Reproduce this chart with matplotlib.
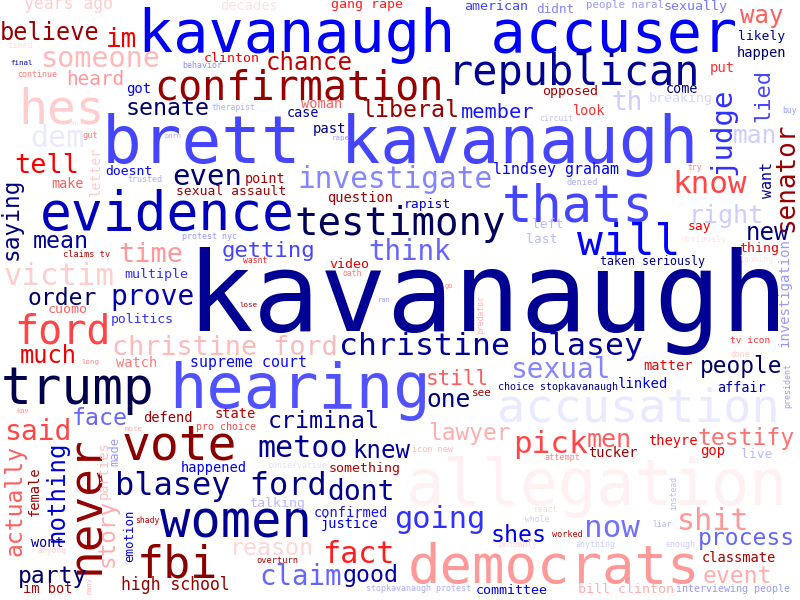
import matplotlib
matplotlib.use("Agg")
import matplotlib.pyplot as plt

# word frequencies (largest word = 111)
words = [
    "kavanaugh", "brett kavanaugh", "kavanaugh accuser", "allegation", "hearing",
    "democrats", "evidence", "trump", "thats", "women", "never", "vote",
    "accusation", "hes", "fbi", "will", "republican", "confirmation", "ford",
    "testimony", "blasey ford", "christine blasey", "know", "pick", "now",
    "metoo", "dem", "going", "victim", "fact", "think", "shit", "investigate",
    "judge", "tell", "prove", "someone", "christine ford", "time", "claim",
    "said", "sexual", "dont", "senator", "right", "men", "man", "th", "one",
    "way", "even", "much", "getting", "mean", "order", "senate",
    "liberal", "believe", "reason", "shes", "good", "face", "lied", "saying",
    "nothing", "actually", "criminal", "knew", "lawyer", "testify", "process",
    "event", "people", "party", "new", "story", "still", "chance", "member",
    "heard", "im", "high school", "lindsey graham", "supreme court",
    "investigation", "want", "linked", "got", "look", "put", "gop", "case",
    "past", "woman", "clinton", "years ago", "decades", "gang rape", "american",
    "sexually", "didnt", "likely", "happen", "come", "opposed", "breaking",
    "doesnt", "make", "point", "sexual assault", "question", "rapist", "video",
    "multiple", "politics", "cuomo", "watch", "matter", "thing", "say", "left",
    "last", "affair", "defend", "state", "happened", "something", "confirmed",
    "justice", "talking", "wont", "im bot", "committee", "classmate",
    "bill clinton", "theyre", "tucker", "live", "letter", "parties", "female",
    "emotion", "made", "taken seriously", "people naral", "pro choice",
    "choice stopkavanaugh", "see", "tv icon", "interviewing people",
    "therapist", "behavior", "continue", "timed", "final", "trusted", "gut",
    "back", "porn", "rape", "circuit", "buy", "try", "denied", "protest nyc",
    "claims tv", "wasnt", "oath", "go", "ran", "lose", "predator", "long",
    "kav", "mote", "anyone", "shady", "many", "overturn", "conservative",
    "icon new", "attempt", "instead", "react", "whole", "probably", "worked",
    "liar", "anything", "enough", "obviously", "looking", "done", "president",
    "stopkavanaugh protest",
]
weights = [
    111, 66, 58.5, 63.5, 62,
    54, 53, 51, 50.5, 50.5, 46, 48,
    47, 48, 45, 43, 42, 40, 40,
    39, 32, 31.5, 31, 31, 31,
    30, 30, 30.4, 30.6, 30, 27.5, 30, 29.5,
    29, 27, 28, 28.5, 26.7, 27, 27.5,
    28, 27.7, 28, 26, 25, 25, 24.5, 26, 24.5,
    24, 29, 23.8, 22.3, 23.3, 23, 23.3,
    23.3, 23.6, 23.3, 23.3, 23.3, 23.3, 22, 22.7,
    24, 23, 23.3, 24, 22.7, 23, 23,
    23, 22.7, 23, 24, 22.6, 21, 24, 20.4,
    19.4, 26, 16.5, 14.9, 14.9,
    14, 15, 14, 14, 13.5, 14, 14, 13.5,
    13.9, 13.8, 13.4, 16.5, 13.6, 13.4, 13.4,
    13.4, 12.7, 13, 13.7, 13.5, 13.4, 13.4,
    13.1, 13.5, 13.5, 13, 13.8, 13, 13.4,
    13.4, 13.1, 13.4, 13.8, 13.7, 13.4, 13, 13,
    13, 13.5, 13.7, 13.8, 13.6, 13.4, 13.7,
    13.6, 13.4, 13.5, 13.7, 13.4, 13.7,
    13.2, 13.7, 13.7, 13, 13.7, 13.6, 13.7,
    12.4, 12, 11.6, 10.7, 10,
    10, 11, 9.5, 10,
    8.2, 8.4, 8.4, 8.5, 7.5, 8.4, 8.6,
    7, 7, 7.5, 8, 8, 8, 8.7, 8.4,
    8.6, 8, 8, 7, 7, 7.5, 8.2, 7.5,
    7, 7.5, 8, 8, 7, 8.6, 8.4,
    8.5, 8.5, 8.2, 8, 8, 8, 8.5,
    8, 8.3, 8.3, 8.5, 8, 8, 8.4,
    8.4,
]

# placement: x centre, baseline y (horizontal) or baseline x, centre y (vertical),
# rotation, colour position on the seismic map
layout = {
    "kavanaugh": (487, 331, 0, 0.10),
    "brett kavanaugh": (400, 163, 0, 0.32),
    "kavanaugh accuser": (438, 52, 0, 0.245),
    "allegation": (597, 505, 0, 0.515),
    "hearing": (300, 408, 0, 0.33),
    "democrats": (554, 583, 0, 0.60),
    "evidence": (167, 230, 0, 0.16),
    "trump": (78, 404, 0, 0.0),
    "thats": (578, 222, 0, 0.32),
    "women": (236, 538, 0, 0.10),
    "never": (99, 505, 90, 0.96),
    "vote": (179, 460, 0, 0.98),
    "accusation": (638, 422, 0, 0.48),
    "hes": (62, 123, 0, 0.55),
    "fbi": (177, 577, 0, 0.98),
    "will": (629, 255, 0, 0.25),
    "republican": (574, 85, 0, 0.10),
    "confirmation": (299, 99, 0, 0.95),
    "ford": (63, 343, 0, 0.68),
    "testimony": (400, 235, 0, 0.02),
    "blasey ford": (221, 495, 0, 0.08),
    "christine blasey": (491, 355, 0, 0.11),
    "know": (710, 193, 0, 0.68),
    "pick": (550, 453, 0, 0.68),
    "now": (612, 537, 0, 0.36),
    "metoo": (303, 457, 0, 0.10),
    "dem": (57, 147, 0, 0.48),
    "going": (440, 528, 0, 0.30),
    "victim": (59, 285, 0, 0.55),
    "fact": (358, 563, 0, 0.72),
    "think": (409, 260, 0, 0.35),
    "shit": (713, 530, 0, 0.60),
    "investigate": (395, 188, 0, 0.38),
    "judge": (730, 131, 90, 0.30),
    "tell": (47, 173, 0, 0.76),
    "prove": (153, 305, 0, 0.14),
    "someone": (100, 67, 0, 0.57),
    "christine ford": (225, 355, 0, 0.57),
    "time": (151, 262, 0, 0.60),
    "claim": (301, 585, 0, 0.35),
    "said": (38, 440, 0, 0.68),
    "sexual": (560, 378, 0, 0.38),
    "dont": (361, 500, 0, 0.10),
    "senator": (793, 177, 90, 0.95),
    "right": (726, 223, 0, 0.45),
    "men": (609, 447, 0, 0.66),
    "man": (755, 143, 0, 0.45),
    "th": (627, 110, 0, 0.45),
    "one": (448, 407, 0, 0.08),
    "way": (762, 23, 0, 0.66),
    "even": (207, 185, 0, 0.05),
    "much": (48, 363, 0, 0.77),
    "getting": (268, 257, 0, 0.32),
    "mean": (61, 248, 0, 0.12),
    "order": (62, 305, 0, 0.04),
    "senate": (168, 115, 0, 0.05),
    "liberal": (410, 117, 0, 0.95),
    "believe": (50, 40, 0, 0.95),
    "reason": (272, 555, 0, 0.54),
    "shes": (519, 542, 0, 0.23),
    "good": (371, 582, 0, 0.14),
    "face": (100, 425, 0, 0.35),
    "lied": (769, 95, 90, 0.32),
    "saying": (18, 219, 90, 0.08),
    "nothing": (64, 491, 90, 0.20),
    "actually": (22, 500, 90, 0.66),
    "criminal": (324, 428, 0, 0.11),
    "knew": (381, 458, 0, 0.11),
    "lawyer": (469, 440, 0, 0.58),
    "testify": (746, 445, 0, 0.64),
    "process": (746, 545, 0, 0.35),
    "event": (737, 583, 0, 0.58),
    "people": (741, 373, 0, 0.04),
    "party": (53, 583, 0, 0.05),
    "new": (767, 240, 0, 0.07),
    "story": (114, 533, 90, 0.58),
    "still": (457, 385, 0, 0.66),
    "chance": (309, 70, 0, 0.87),
    "member": (498, 118, 0, 0.27),
    "heard": (95, 85, 0, 0.60),
    "im": (121, 47, 0, 0.78),
    "high school": (175, 590, 0, 0.95),
    "lindsey graham": (556, 174, 0, 0.24),
    "supreme court": (249, 367, 0, 0.26),
    "investigation": (789, 293, 90, 0.40),
    "want": (772, 180, 90, 0.10),
    "linked": (643, 388, 0, 0.22),
    "got": (139, 93, 0, 0.25),
    "look": (589, 115, 0, 0.70),
    "put": (722, 72, 0, 0.70),
    "gop": (713, 455, 0, 0.78),
    "case": (303, 117, 0, 0.12),
    "past": (329, 133, 0, 0.08),
    "woman": (322, 108, 0, 0.66),
    "clinton": (232, 62, 0, 0.76),
    "years ago": (68, 9, 0, 0.55),
    "decades": (249, 10, 0, 0.53),
    "gang rape": (367, 8, 0, 0.72),
    "american": (496, 10, 0, 0.32),
    "sexually": (696, 10, 0, 0.37),
    "didnt": (555, 13, 0, 0.38),
    "likely": (762, 40, 0, 0.10),
    "happen": (761, 57, 0, 0.05),
    "come": (682, 93, 0, 0.07),
    "opposed": (570, 95, 0, 0.92),
    "breaking": (681, 102, 0, 0.46),
    "doesnt": (129, 175, 0, 0.25),
    "make": (68, 188, 0, 0.66),
    "point": (265, 183, 0, 0.90),
    "sexual assault": (231, 195, 0, 0.93),
    "question": (360, 202, 0, 0.93),
    "rapist": (427, 208, 0, 0.17),
    "video": (349, 268, 0, 0.80),
    "multiple": (156, 278, 0, 0.30),
    "politics": (142, 323, 0, 0.30),
    "cuomo": (68, 313, 0, 0.65),
    "watch": (137, 367, 0, 0.63),
    "matter": (668, 370, 0, 0.77),
    "thing": (759, 252, 0, 0.76),
    "say": (699, 230, 0, 0.76),
    "left": (548, 228, 0, 0.43),
    "last": (542, 243, 0, 0.43),
    "affair": (742, 392, 0, 0.15),
    "defend": (168, 422, 0, 0.95),
    "state": (235, 418, 0, 0.88),
    "happened": (214, 472, 0, 0.24),
    "something": (365, 472, 0, 0.90),
    "confirmed": (351, 517, 0, 0.27),
    "justice": (350, 528, 0, 0.22),
    "talking": (277, 507, 0, 0.43),
    "wont": (47, 547, 0, 0.10),
    "im bot": (48, 593, 0, 0.90),
    "committee": (512, 594, 0, 0.24),
    "classmate": (739, 562, 0, 0.92),
    "bill clinton": (626, 593, 0, 0.58),
    "theyre": (673, 445, 0, 0.78),
    "tucker": (613, 457, 0, 0.95),
    "live": (757, 458, 0, 0.43),
    "letter": (100, 171, 90, 0.55),
    "parties": (108, 470, 90, 0.56),
    "female": (39, 491, 90, 0.93),
    "emotion": (133, 536, 90, 0.20),
    "made": (118, 452, 90, 0.40),
    "taken seriously": (653, 265, 0, 0.10),
    "people naral": (625, 8, 0, 0.40),
    "pro choice": (226, 430, 0, 0.68),
    "choice stopkavanaugh": (558, 390, 0, 0.10),
    "see": (482, 396, 0, 0.95),
    "tv icon": (750, 343, 0, 0.70),
    "interviewing people": (733, 592, 0, 0.40),
    "therapist": (233, 110, 0, 0.42),
    "behavior": (202, 68, 0, 0.39),
    "continue": (37, 77, 0, 0.63),
    "timed": (20, 48, 0, 0.53),
    "final": (22, 65, 0, 0.18),
    "trusted": (145, 182, 0, 0.42),
    "gut": (90, 138, 0, 0.63),
    "back": (77, 125, 0, 0.53),
    "porn": (173, 138, 0, 0.42),
    "rape": (341, 140, 0, 0.40),
    "circuit": (556, 121, 0, 0.44),
    "buy": (790, 113, 0, 0.40),
    "try": (695, 170, 0, 0.62),
    "denied": (582, 185, 0, 0.42),
    "protest nyc": (210, 239, 0, 0.40),
    "claims tv": (87, 257, 0, 0.88),
    "wasnt": (255, 263, 0, 0.72),
    "oath": (352, 276, 0, 0.63),
    "go": (449, 288, 0, 0.62),
    "ran": (384, 302, 0, 0.40),
    "lose": (248, 307, 0, 0.90),
    "predator": (483, 314, 90, 0.58),
    "long": (90, 364, 0, 0.62),
    "kav": (23, 413, 0, 0.60),
    "mote": (134, 431, 0, 0.58),
    "anyone": (52, 553, 0, 0.55),
    "shady": (147, 523, 0, 0.88),
    "many": (92, 586, 90, 0.57),
    "overturn": (277, 563, 0, 0.90),
    "conservative": (297, 468, 0, 0.47),
    "icon new": (432, 452, 0, 0.57),
    "attempt": (562, 460, 0, 0.62),
    "instead": (676, 493, 90, 0.43),
    "react": (546, 512, 0, 0.54),
    "whole": (537, 522, 0, 0.45),
    "probably": (518, 547, 0, 0.54),
    "worked": (567, 537, 0, 0.88),
    "liar": (662, 527, 0, 0.43),
    "anything": (596, 547, 0, 0.45),
    "enough": (681, 547, 0, 0.45),
    "obviously": (703, 242, 0, 0.53),
    "looking": (756, 262, 0, 0.53),
    "done": (740, 357, 0, 0.55),
    "president": (790, 385, 90, 0.40),
    "stopkavanaugh protest": (419, 591, 0, 0.42),
}

cmap = plt.get_cmap("seismic")
max_font = 111  # px
top = max(weights)

fig = plt.figure(figsize=(8, 6), dpi=100)
ax = fig.add_axes([0, 0, 1, 1])
ax.set_xlim(0, 800)
ax.set_ylim(600, 0)
ax.axis("off")

for word, w in zip(words, weights):
    x, y, rot, tone = layout[word]
    px = max_font * w / top
    ax.text(x, y, word, fontsize=px * 0.72, family="DejaVu Sans Mono",
            color=cmap(tone), rotation=rot, rotation_mode="anchor",
            ha="center", va="baseline")

fig.savefig("out.png", dpi=100, facecolor="white")
